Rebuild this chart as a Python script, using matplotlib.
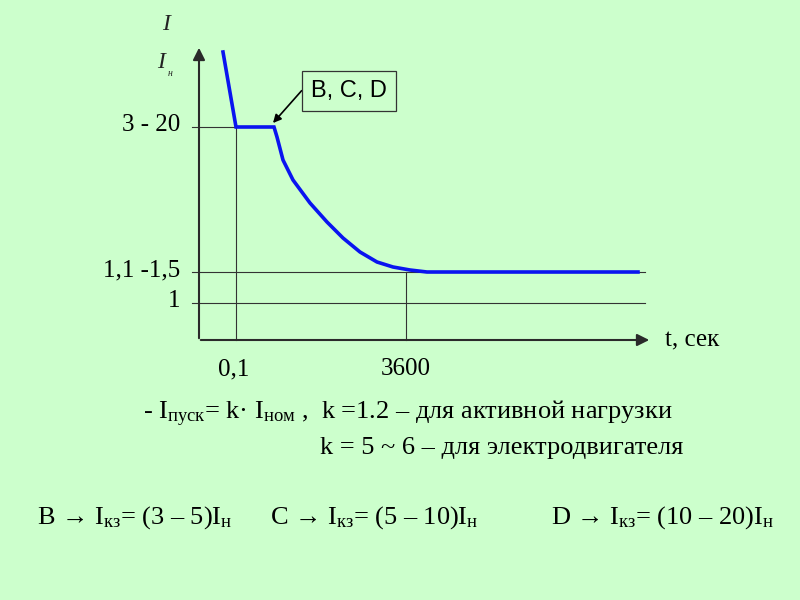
import matplotlib
matplotlib.use('Agg')
import matplotlib.pyplot as plt

# схема: координаты в единицах рисунка (0..800 по x, 0..600 по y сверху вниз)
bg = '#CCFFCC'

# кривая тока
curve_x = [223, 236, 274, 277, 283, 293, 310, 327, 343, 360, 377, 393, 410, 427, 460, 638]
curve_y = [52, 127, 127, 137, 160, 180, 203, 222, 238, 252, 262, 267, 270, 272, 272, 272]

# уровни по оси I/Iн
level_names = ['3 - 20', '1,1 -1,5', '1']
level_y = [127, 272, 303]
level_x_end = [236, 645, 645]

# отметки по оси t
tick_names = ['0,1', '3600']
tick_x = [234, 406]
tick_y_top = [127, 272]

x0, y0 = 199, 340   # начало координат

plt.rcParams['mathtext.fontset'] = 'custom'
plt.rcParams['mathtext.rm'] = 'Liberation Serif'
plt.rcParams['mathtext.it'] = 'Liberation Serif:italic'

fig = plt.figure(figsize=(8, 6), dpi=100, facecolor=bg)
ax = fig.add_axes([0, 0, 1, 1])
ax.set_facecolor(bg)
ax.set_xlim(0, 800)
ax.set_ylim(600, 0)
ax.axis('off')

axc = '#2a2a2a'
# оси со стрелками
ax.annotate('', xy=(x0, 45), xytext=(x0, y0 + 1),
            arrowprops=dict(arrowstyle='-|>', color=axc, lw=1.5, mutation_scale=18))
ax.annotate('', xy=(652, y0), xytext=(x0 - 1, y0),
            arrowprops=dict(arrowstyle='-|>', color=axc, lw=1.5, mutation_scale=18))

serif = 'Liberation Serif'

# вспомогательные линии
for name, yy, xe in zip(level_names, level_y, level_x_end):
    ax.plot([192, 236 if xe == 236 else xe], [yy, yy], color='#333333', lw=0.8)
    ax.text(180, yy - 2, name, ha='right', va='center', fontsize=18,
            family=serif, color='black')
for name, xx, yt in zip(tick_names, [236, 406], tick_y_top):
    ax.plot([xx, xx], [yt, y0], color='#333333', lw=0.8)
for name, xx in zip(tick_names, tick_x):
    ax.text(xx, 369, name, ha='center', va='center', fontsize=18,
            family=serif, color='black')

ax.plot(curve_x, curve_y, color='#0A14F0', lw=2.6, solid_joinstyle='miter', zorder=5)

# подписи осей
ax.text(166, 25, 'I', ha='center', va='center', fontsize=17, style='italic',
        family=serif, color='#222222')
ax.text(161, 62, 'I', ha='center', va='center', fontsize=17, style='italic',
        family=serif, color='#222222')
ax.text(170, 73, 'н', ha='center', va='center', fontsize=7, style='italic',
        family=serif, color='#222222')
ax.text(665, 340, 't, сек', ha='left', va='center', fontsize=18,
        family=serif, color='black')

# выноска B, C, D
ax.annotate('B, C, D', xy=(273, 123), xytext=(349, 91), ha='center', va='center',
            fontsize=17, family='Liberation Sans',
            bbox=dict(boxstyle='square,pad=0.38', fc=bg, ec='#333333', lw=0.9),
            arrowprops=dict(arrowstyle='-|>', color='black', lw=1.2, mutation_scale=12,
                            shrinkA=0, shrinkB=0, relpos=(0, 1)))

# текст под графиком
fs = 19
ax.text(143, 414, r'- I$_{\mathrm{пуск}}$= k· I$_{\mathrm{ном}}$ ,  k =1.2 – для активной нагрузки',
        ha='left', va='center', fontsize=fs, family=serif)
ax.text(320, 448, 'k = 5 ~ 6 – для электродвигателя',
        ha='left', va='center', fontsize=fs, family=serif)

formulas = [r'B → I$_{\mathrm{кз}}$= (3 – 5)I$_{\mathrm{н}}$',
            r'C → I$_{\mathrm{кз}}$= (5 – 10)I$_{\mathrm{н}}$',
            r'D → I$_{\mathrm{кз}}$= (10 – 20)I$_{\mathrm{н}}$']
formula_x = [37, 270, 551]
for f, xx in zip(formulas, formula_x):
    ax.text(xx, 518, f, ha='left', va='center', fontsize=fs, family=serif)

fig.savefig('out.png', dpi=100, facecolor=bg)
